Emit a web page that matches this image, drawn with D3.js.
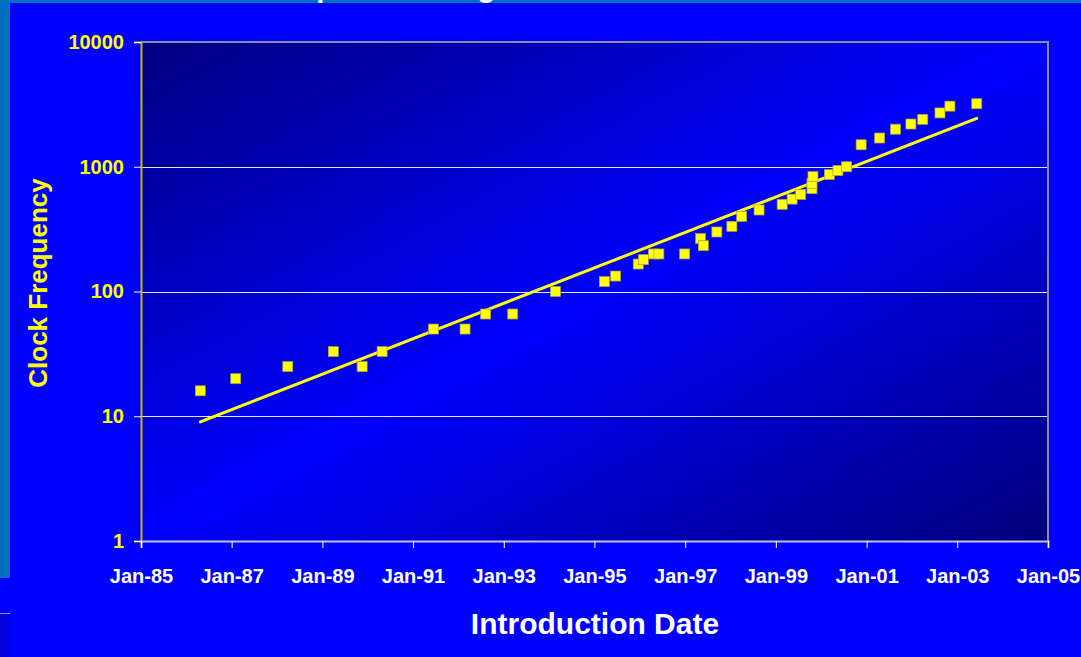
<!DOCTYPE html>
<html>
<head>
<meta charset="utf-8">
<script src="https://cdn.jsdelivr.net/npm/d3@7"></script>
<style>
  html, body { margin: 0; padding: 0; background: #0000FF; }
  svg { display: block; }
  text { font-family: "Liberation Sans", Arial, sans-serif; font-weight: bold; }
</style>
</head>
<body>
<svg id="chart" width="1081" height="657"></svg>
<script>
// ---- data ----
const introDates = ["1986-04-24","1987-02-03","1988-03-28","1989-03-30","1989-11-17","1990-04-27",
  "1991-06-14","1992-02-24","1992-08-08","1993-03-14","1994-02-21","1995-03-22","1995-06-21",
  "1995-12-20","1996-01-30","1996-04-20","1996-06-03","1996-12-28","1997-05-05","1997-05-27",
  "1997-09-13","1998-01-12","1998-04-01","1998-08-19","1999-02-21","1999-05-12","1999-07-20",
  "1999-10-19","1999-10-19","1999-10-27","2000-03-07","2000-05-15","2000-07-24","2000-11-18",
  "2001-04-16","2001-08-22","2001-12-24","2002-03-29","2002-08-15","2002-11-03","2003-06-07"];
const clockMHz = [16,20,25,33,25,33,
  50,50,66,66,100,120,133,
  166,180,200,200,200,266,233,
  300,333,400,450,500,550,600,
  667,733,833,866,933,1000,1500,
  1700,2000,2200,2400,2700,3060,3200];
const trendDates = ["1986-04-24","2003-06-07"];
const trendValues = [9.0, 2440];
const xTickDates = ["1985-01-01","1987-01-01","1989-01-01","1991-01-01","1993-01-01","1995-01-01",
  "1997-01-01","1999-01-01","2001-01-01","2003-01-01","2005-01-01"];
const yTickValues = [1, 10, 100, 1000, 10000];
const titleText = "Clock Speed Scaling";
const xTitle = "Introduction Date";
const yTitle = "Clock Frequency";

// ---- layout ----
const svg = d3.select("#chart");
const W = 1081, H = 657;
const plot = { left: 141, right: 1048, top: 42, bottom: 541 };
const parse = d3.timeParse("%Y-%m-%d");
const fmt = d3.timeFormat("%b-%y");

const x = d3.scaleTime()
  .domain([parse(xTickDates[0]), parse(xTickDates[xTickDates.length - 1])])
  .range([plot.left, plot.right]);
const y = d3.scaleLog()
  .domain([yTickValues[0], yTickValues[yTickValues.length - 1]])
  .range([plot.bottom, plot.top]);

// background pieces
svg.append("rect").attr("x", 0).attr("y", 0).attr("width", W).attr("height", H).attr("fill", "#0000FF");
svg.append("rect").attr("x", 0).attr("y", 0).attr("width", W).attr("height", 3).attr("fill", "#0070C0");
svg.append("rect").attr("x", 0).attr("y", 0).attr("width", 10).attr("height", 578).attr("fill", "#0070C0");
svg.append("rect").attr("x", 0).attr("y", 614).attr("width", 10).attr("height", H - 614).attr("fill", "#0000DC");
svg.append("line").attr("x1", 0).attr("x2", 10).attr("y1", 613.5).attr("y2", 613.5)
  .attr("stroke", "#9090B0").attr("stroke-width", 1);

// slide title (cut off at the top, as in the reference)
svg.append("text").attr("x", 210).attr("y", -3).attr("fill", "#FFFFFF")
  .attr("font-size", 29).text(titleText);

// plot background gradient
const defs = svg.append("defs");
const grad = defs.append("linearGradient").attr("id", "plotGrad")
  .attr("x1", 0).attr("y1", 0).attr("x2", 1).attr("y2", 1);
grad.append("stop").attr("offset", "0%").attr("stop-color", "#000080");
grad.append("stop").attr("offset", "50%").attr("stop-color", "#0000FF");
grad.append("stop").attr("offset", "100%").attr("stop-color", "#00007A");

svg.append("rect")
  .attr("x", plot.left).attr("y", plot.top)
  .attr("width", plot.right - plot.left).attr("height", plot.bottom - plot.top)
  .attr("fill", "url(#plotGrad)");

// gridlines
svg.append("g").selectAll("line")
  .data(yTickValues.filter(v => v > yTickValues[0] && v < yTickValues[yTickValues.length - 1]))
  .join("line")
  .attr("x1", plot.left).attr("x2", plot.right)
  .attr("y1", d => Math.round(y(d)) + 0.5).attr("y2", d => Math.round(y(d)) + 0.5)
  .attr("stroke", "#FFFFFF").attr("stroke-width", 1).attr("opacity", 0.9);

// frame top/right
svg.append("line").attr("x1", plot.left).attr("x2", plot.right + 1)
  .attr("y1", plot.top).attr("y2", plot.top).attr("stroke", "#8C8C9C").attr("stroke-width", 2);
svg.append("line").attr("x1", plot.right).attr("x2", plot.right)
  .attr("y1", plot.top).attr("y2", plot.bottom).attr("stroke", "#8C8C9C").attr("stroke-width", 2);

// y axis
const yAxis = d3.axisLeft(y).tickValues(yTickValues).tickFormat(d3.format("d")).tickSize(7).tickPadding(10);
const gy = svg.append("g").attr("transform", `translate(${plot.left},0)`).call(yAxis);
gy.select(".domain").attr("stroke", "#C8B800").attr("stroke-width", 2);
gy.selectAll(".tick line").attr("stroke", "#FFFFFF").attr("stroke-width", 1);
gy.selectAll(".tick text").attr("fill", "#FFFF00").attr("font-size", 20)
  .attr("font-family", "'Liberation Sans', Arial, sans-serif").attr("font-weight", "bold");

// x axis
const xAxis = d3.axisBottom(x).tickValues(xTickDates.map(parse)).tickFormat(fmt).tickSize(7).tickPadding(21);
const gx = svg.append("g").attr("transform", `translate(0,${plot.bottom})`).call(xAxis);
gx.select(".domain").attr("stroke", "#C0C0D8").attr("stroke-width", 2);
gx.selectAll(".tick line").attr("stroke", "#FFFFFF").attr("stroke-width", 1);
gx.selectAll(".tick text").attr("fill", "#FFFFFF").attr("font-size", 20)
  .attr("font-family", "'Liberation Sans', Arial, sans-serif").attr("font-weight", "bold");

// trend line
const trend = trendDates.map((d, i) => ({ date: parse(d), value: trendValues[i] }));
svg.append("path").datum(trend)
  .attr("d", d3.line().x(d => x(d.date)).y(d => y(d.value)))
  .attr("fill", "none").attr("stroke", "#FFFF00").attr("stroke-width", 3).attr("stroke-linecap", "round");

// points
const pts = introDates.map((d, i) => ({ date: parse(d), value: clockMHz[i] }));
const S = 10;
svg.append("g").selectAll("rect").data(pts).join("rect")
  .attr("x", d => x(d.date) - S / 2).attr("y", d => y(d.value) - S / 2)
  .attr("width", S).attr("height", S)
  .attr("fill", "#FFFF00").attr("stroke", "#A8A040").attr("stroke-width", 0.7);

// axis titles
svg.append("text").attr("x", 595).attr("y", 634).attr("text-anchor", "middle")
  .attr("fill", "#FFFFFF").attr("font-size", 30).text(xTitle);
svg.append("text").attr("transform", "translate(47,283) rotate(-90)").attr("text-anchor", "middle")
  .attr("fill", "#FFFF00").attr("font-size", 26).text(yTitle);
</script>
</body>
</html>
